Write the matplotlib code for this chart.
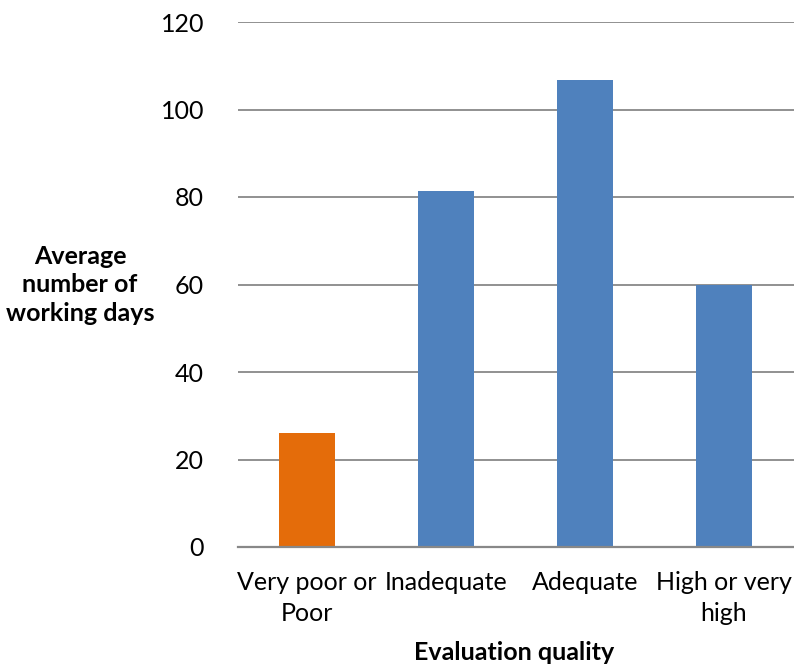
import matplotlib.pyplot as plt
import numpy as np

plt.rcParams['font.family'] = ['Lato', 'DejaVu Sans']

categories = ['Very poor or\nPoor', 'Inadequate', 'Adequate', 'High or very\nhigh']
avg_days = [26, 81.4, 106.7, 59.9]
bar_colors = ['#E46C0A', '#4F81BD', '#4F81BD', '#4F81BD']
y_ticks = [0, 20, 40, 60, 80, 100, 120]

fig = plt.figure(figsize=(7.94, 6.67), dpi=100)
ax = fig.add_axes([237.5 / 794, 1 - 547 / 667, 556 / 794, 525 / 667])

x = np.arange(len(categories))
ax.bar(x, avg_days, width=0.4, color=bar_colors, zorder=3)

ax.set_xlim(-0.5, len(categories) - 0.5)
ax.set_ylim(0, 120)
ax.set_yticks(y_ticks)
ax.yaxis.grid(True, color='#888888', linewidth=1.3, zorder=0)
ax.tick_params(axis='y', length=0, pad=24, labelsize=18)
ax.set_xticks(x)
ax.set_xticklabels(categories, fontsize=18, linespacing=1.45)
ax.tick_params(axis='x', direction='in', length=3, color='#888888', pad=17)

for s in ['top', 'right', 'left']:
    ax.spines[s].set_visible(False)
ax.spines['bottom'].set_color('#888888')
ax.spines['bottom'].set_linewidth(1.6)
ax.spines['bottom'].set_zorder(4)

fig.text(80 / 794, 1 - 285 / 667, 'Average\nnumber of\nworking days', ha='center',
         va='center', fontsize=18, fontweight='bold', linespacing=1.3)
fig.text(514 / 794, 1 - 652 / 667, 'Evaluation quality', ha='center', va='center',
         fontsize=18, fontweight='bold')

fig.savefig('out.png', dpi=100)
